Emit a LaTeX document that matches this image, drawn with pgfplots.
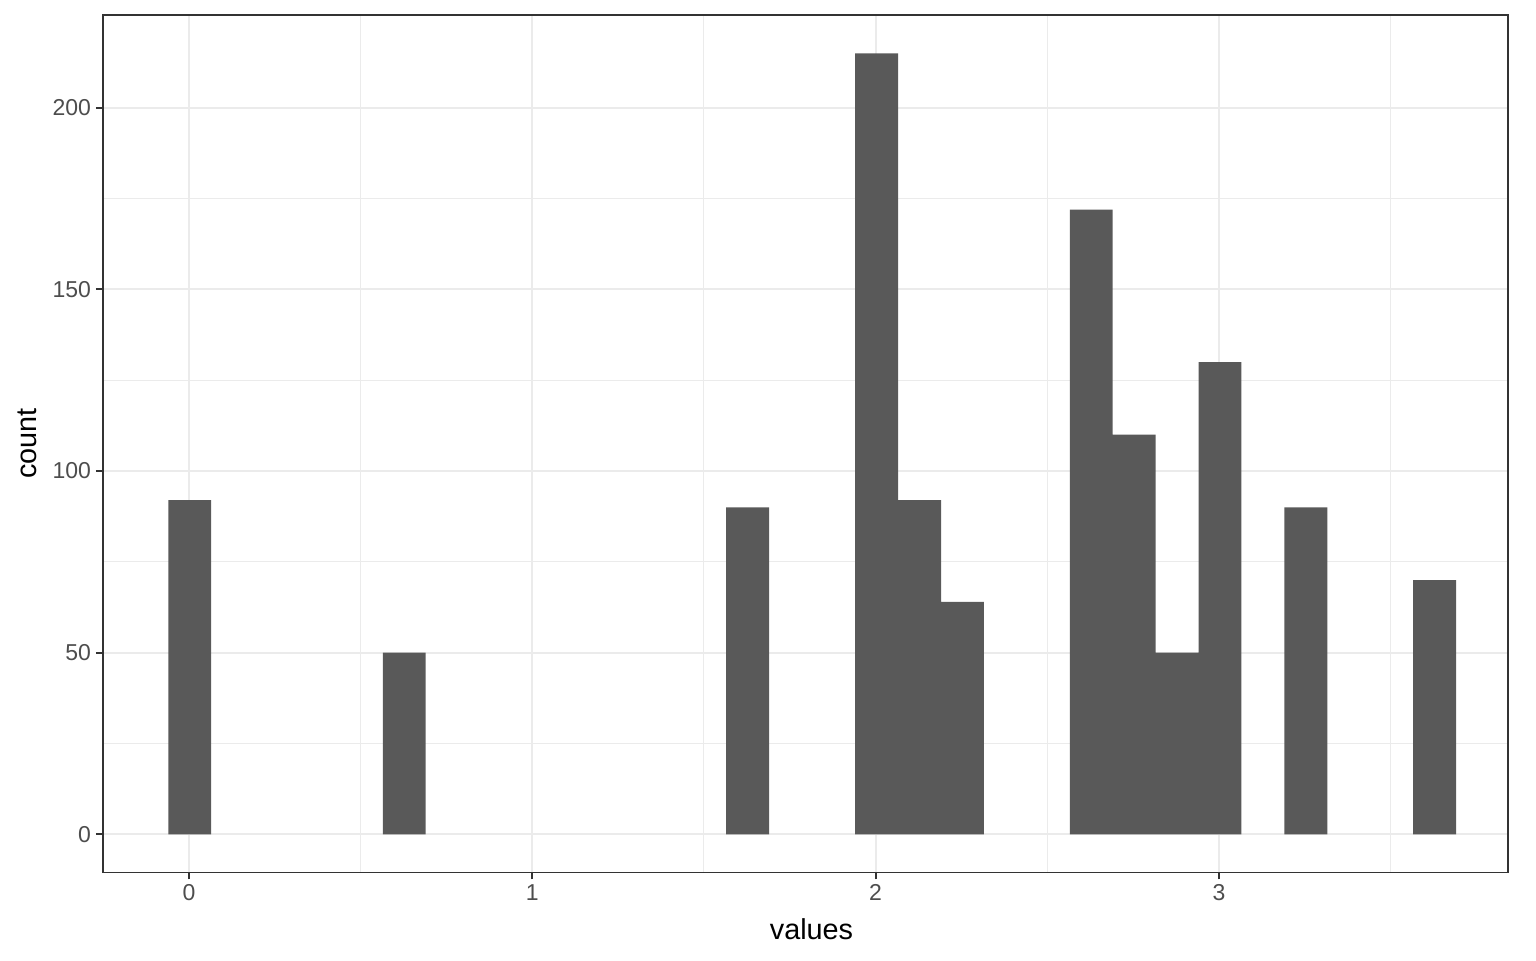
\documentclass[border=0pt]{standalone}
\usepackage{pgfplots}
\pgfplotsset{compat=1.18}
\usepackage{fontspec}
\setmainfont{Liberation Sans}
\definecolor{barfill}{HTML}{595959}
\definecolor{gridc}{HTML}{EBEBEB}
\definecolor{tickc}{HTML}{4D4D4D}
\definecolor{framec}{HTML}{333333}
\begin{document}
\begin{tikzpicture}
\begin{axis}[
  name=ax,
  scale only axis,
  width=702.5pt, height=428.75pt,
  xmin=-0.2506, xmax=3.842,
  ymin=-10.45, ymax=225.6,
  xtick={0,1,2,3}, minor xtick={0.5,1.5,2.5,3.5},
  ytick={0,50,100,150,200}, minor ytick={25,75,125,175},
  /pgf/number format/assume math mode=true,
  grid=both,
  major grid style={gridc, line width=1pt},
  minor grid style={gridc, line width=0.5pt},
  axis line style={framec, line width=0.75pt},
  major tick style={framec, line width=1pt},
  minor tick length=0pt,
  major tick length=3.5pt,
  tick align=outside,
  xtick pos=lower, ytick pos=left,
  tick label style={font=\fontsize{11.5}{13}\selectfont, text=tickc},
  xticklabel style={yshift=1pt},
  yticklabel style={xshift=1pt},
  xlabel={values}, ylabel={count},
  label style={font=\fontsize{14.4}{16}\selectfont, text=black},
  xlabel style={yshift=-2pt, xshift=3pt},
  ylabel style={yshift=1pt},
]
\addplot[ybar, bar width=0.125, fill=barfill, draw=none] coordinates {
(0.002,92) (0.627,50) (1.627,90) (2.003,215) (2.128,92) (2.253,64)
(2.628,172) (2.753,110) (2.878,50) (3.003,130) (3.253,90) (3.628,70)
};
\end{axis}
\pgfresetboundingbox
\path (ax.south west) ++(-51.5pt,-43.85pt) rectangle ++(768pt,480pt);
\end{tikzpicture}
\end{document}
